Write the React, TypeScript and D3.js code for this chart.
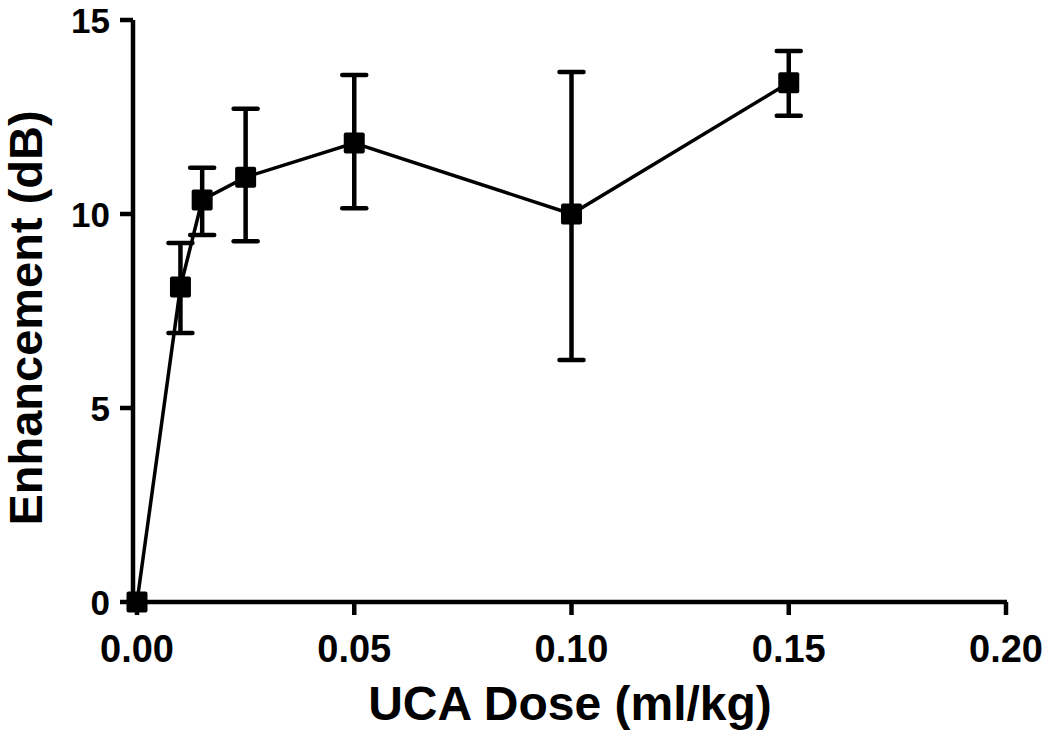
import React from "react";
import * as d3 from "d3";

const doses = [0, 0.01, 0.015, 0.025, 0.05, 0.1, 0.15];
const means = [0, 8.12, 10.36, 10.95, 11.83, 10.0, 13.38];
const upper = [0, 9.25, 11.19, 12.71, 13.58, 13.66, 14.2];
const lower = [0, 6.93, 9.46, 9.3, 10.15, 6.24, 12.53];
const xTicks = [0, 0.05, 0.1, 0.15, 0.2];
const yTicks = [0, 5, 10, 15];
const xTitle = "UCA Dose (ml/kg)";
const yTitle = "Enhancement (dB)";

export default function App() {
  const W = 1050, H = 734;
  const x = d3.scaleLinear().domain([0, 0.2]).range([137, 1006]);
  const y = d3.scaleLinear().domain([0, 15]).range([602, 20]);
  const axisX = 133;
  const pts = doses.map((d, i) => ({ d, m: means[i], u: upper[i], l: lower[i] }));
  const line = d3.line<any>().x((p) => x(p.d)).y((p) => y(p.m));
  const font = "Arial, 'Liberation Sans', Helvetica, sans-serif";
  const ms = 21;
  return (
    <svg width={W} height={H} style={{ position: "absolute", left: 0, top: 0, background: "#fff" }}>
      {/* axes */}
      <line x1={axisX} x2={axisX} y1={y(15)} y2={y(0)} stroke="#000" strokeWidth={4.5} />
      <line x1={axisX} x2={x(0.2) + 1} y1={y(0)} y2={y(0)} stroke="#000" strokeWidth={4.5} />
      {yTicks.map((t) => (
        <g key={"y" + t}>
          <line x1={120} x2={axisX} y1={y(t)} y2={y(t)} stroke="#000" strokeWidth={4.5} />
          <text x={110} y={y(t) + 13} textAnchor="end" fontFamily={font} fontWeight="bold" fontSize={35} fill="#000">
            {t}
          </text>
        </g>
      ))}
      {xTicks.map((t) => (
        <g key={"x" + t}>
          <line x1={x(t)} x2={x(t)} y1={y(0)} y2={y(0) + 13} stroke="#000" strokeWidth={4.5} />
          <text x={x(t)} y={662} textAnchor="middle" fontFamily={font} fontWeight="bold" fontSize={38} fill="#000">
            {t.toFixed(2)}
          </text>
        </g>
      ))}
      {/* line */}
      <path d={line(pts) || ""} fill="none" stroke="#000" strokeWidth={3.5} />
      {/* error bars */}
      {pts.map((p, i) =>
        p.u !== p.l ? (
          <g key={"e" + i} stroke="#000" strokeWidth={4.5}>
            <line x1={x(p.d)} x2={x(p.d)} y1={y(p.u)} y2={y(p.l)} />
            <line x1={x(p.d) - 12} x2={x(p.d) + 12} y1={y(p.u)} y2={y(p.u)} strokeLinecap="round" />
            <line x1={x(p.d) - 12} x2={x(p.d) + 12} y1={y(p.l)} y2={y(p.l)} strokeLinecap="round" />
          </g>
        ) : null
      )}
      {/* markers */}
      {pts.map((p, i) => (
        <rect key={"m" + i} x={x(p.d) - ms / 2} y={y(p.m) - ms / 2} width={ms} height={ms} rx={2} fill="#000" />
      ))}
      <text x={570} y={720} textAnchor="middle" fontFamily={font} fontWeight="bold" fontSize={48} fill="#000">
        {xTitle}
      </text>
      <text
        transform={`translate(42, ${318}) rotate(-90)`}
        textAnchor="middle"
        fontFamily={font}
        fontWeight="bold"
        fontSize={47}
        fill="#000"
      >
        {yTitle}
      </text>
    </svg>
  );
}
